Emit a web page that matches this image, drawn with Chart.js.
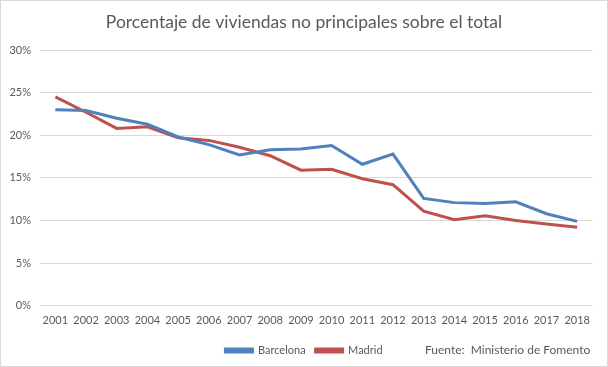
<!DOCTYPE html>
<html><head><meta charset="utf-8">
<script src="https://cdn.jsdelivr.net/npm/chart.js@4/dist/chart.umd.min.js"></script>
<style>html,body{margin:0;padding:0;background:#fff;}#wrap{width:608px;height:367px;position:relative;}</style>
</head><body><div id="wrap"><canvas id="c" width="608" height="367"></canvas></div>
<script>
const years = ['2001','2002','2003','2004','2005','2006','2007','2008','2009','2010','2011','2012','2013','2014','2015','2016','2017','2018'];
const barcelona = [23.0,22.9,22.0,21.3,19.8,18.9,17.7,18.3,18.4,18.8,16.6,17.8,12.6,12.1,12.0,12.2,10.8,9.9];
const madrid = [24.5,22.7,20.8,21.0,19.7,19.4,18.6,17.6,15.9,16.0,14.9,14.2,11.1,10.1,10.55,10.0,9.6,9.2];
const titleText = 'Porcentaje de viviendas no principales sobre el total';
const sourceText = 'Fuente:  Ministerio de Fomento';
const FONT = 'Lato, "Open Sans", sans-serif';
const GREY = '#595959';

const extras = {
  id:'extras',
  afterDraw(chart){
    const ctx = chart.ctx;
    ctx.save();
    ctx.font = '12px ' + FONT;
    ctx.fillStyle = GREY;
    ctx.textBaseline = 'middle';
    ctx.textAlign = 'left';
    ctx.fillText(sourceText, 425, 350);
    ctx.strokeStyle = '#d9d9d9';
    ctx.lineWidth = 1;
    ctx.strokeRect(0.5,0.5,chart.width-1,chart.height-1);
    ctx.restore();
  }
};

new Chart(document.getElementById('c'), {
  type:'line',
  data:{labels:years, datasets:[
    {label:'Barcelona', data:barcelona, borderColor:'#4F81BD', backgroundColor:'#4F81BD', borderWidth:3, pointRadius:0, tension:0},
    {label:'Madrid', data:madrid, borderColor:'#C0504D', backgroundColor:'#C0504D', borderWidth:3, pointRadius:0, tension:0}
  ]},
  options:{
    responsive:false, animation:false,
    layout:{padding:{left:4,right:4,top:0,bottom:1}},
    plugins:{
      title:{display:true, text:titleText, color:GREY, font:{family:FONT, size:17.5, weight:'normal'}, padding:{top:12,bottom:17}},
      legend:{position:'bottom', labels:{color:GREY, font:{family:FONT,size:11}, boxWidth:27, boxHeight:3, padding:10}},
      tooltip:{enabled:false}
    },
    scales:{
      x:{offset:true, grid:{display:false, drawTicks:false}, border:{display:false},
         ticks:{color:GREY, font:{family:FONT,size:11}, padding:8, maxRotation:0, autoSkip:false}},
      y:{min:0,max:30, grid:{color:'#d9d9d9', drawTicks:false}, border:{display:false},
         ticks:{stepSize:5, color:GREY, font:{family:FONT,size:11}, padding:9, callback:v=>v+'%'},
         afterFit(s){ s.width = 36; }},
      yRight:{position:'right', min:0, max:30, grid:{display:false, drawTicks:false}, border:{display:false},
         ticks:{display:false}, afterFit(s){ s.width = 11.5; }}
    }
  },
  plugins:[extras]
});
</script></body></html>
